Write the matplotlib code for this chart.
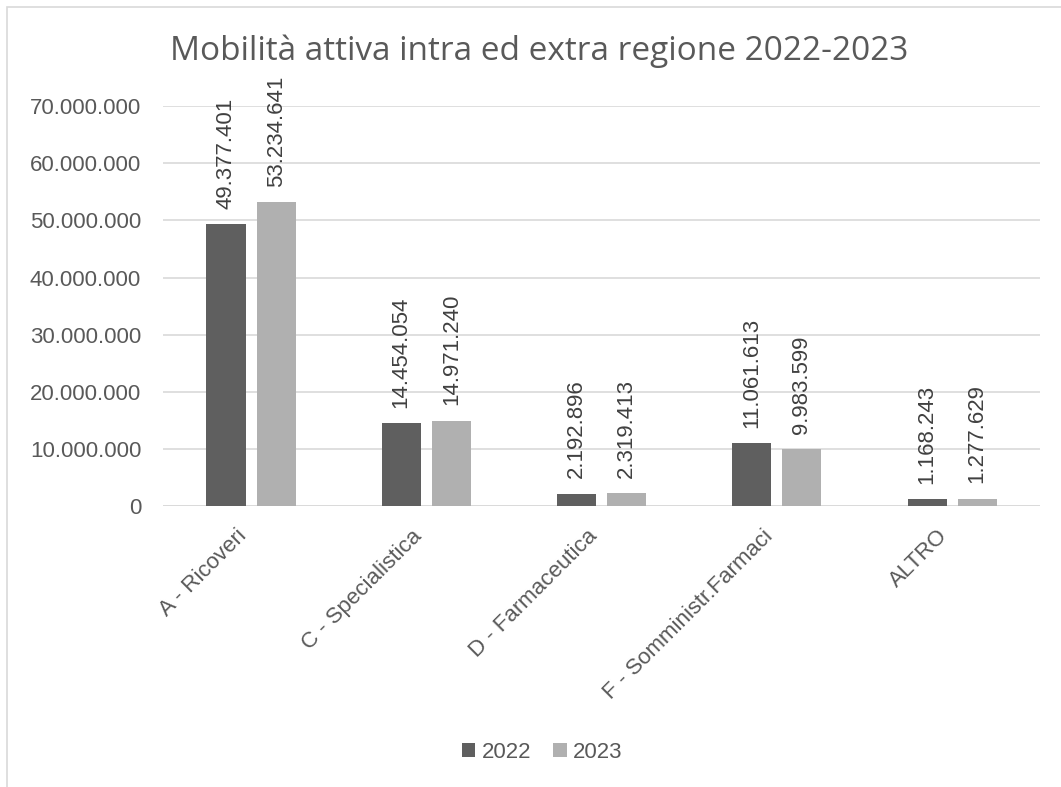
import matplotlib.pyplot as plt
from matplotlib.patches import Rectangle
import numpy as np

categories = ["A - Ricoveri", "C - Specialistica", "D - Farmaceutica",
              "F - Somministr.Farmaci", "ALTRO"]
v2022 = [49377401, 14454054, 2192896, 11061613, 1168243]
v2023 = [53234641, 14971240, 2319413, 9983599, 1277629]
yticks = [0, 10000000, 20000000, 30000000, 40000000, 50000000, 60000000, 70000000]

plt.rcParams['font.family'] = ['Liberation Sans', 'DejaVu Sans']
txt = '#595959'

def fmt(v):
    return f"{v:,}".replace(",", ".")

fig = plt.figure(figsize=(10.61, 7.87), dpi=100)
ax = fig.add_axes([0.154, 0.357, 0.826, 0.508])

x = np.arange(len(categories))
w = 0.223
off = 0.143
b1 = ax.bar(x - off, v2022, w, color='#5f5f5f', label='2022', zorder=3)
b2 = ax.bar(x + off, v2023, w, color='#b0b0b0', label='2023', zorder=3)

for bars, vals in ((b1, v2022), (b2, v2023)):
    for b, v in zip(bars, vals):
        ax.annotate(fmt(v), (b.get_x() + b.get_width() / 2, v),
                    xytext=(0, 11), textcoords='offset points',
                    rotation=90, ha='center', va='bottom',
                    fontsize=16, color='#404040', annotation_clip=False)

ax.set_xlim(-0.5, len(categories) - 0.5)
ax.set_ylim(0, 70000000)
ax.set_yticks(yticks)
ax.set_yticklabels([fmt(t) for t in yticks], fontsize=16, color=txt)
ax.set_xticks(x)
ax.set_xticklabels(categories, rotation=45, ha='right', fontsize=16, color=txt)
ax.tick_params(axis='both', length=0)
ax.tick_params(axis='y', pad=16)
ax.tick_params(axis='x', pad=14)
ax.grid(axis='y', color='#d9d9d9', linewidth=1.2, zorder=0)
for s in ax.spines.values():
    s.set_visible(False)
ax.axhline(0, color='#d9d9d9', linewidth=1.2, zorder=1)

fig.text(0.508, 0.935, "Mobilità attiva intra ed extra regione 2022-2023",
         ha='center', va='center', fontsize=24, color=txt,
         family=['Open Sans', 'DejaVu Sans'])

fig.legend(loc='center', bbox_to_anchor=(0.511, 0.044), ncol=2, frameon=False,
           fontsize=16, labelcolor=txt, handlelength=0.6, handleheight=0.6,
           handletextpad=0.3, columnspacing=1.0)

fig.patches.append(Rectangle((7 / 1061, -0.1), 1.2, 1.1 - 7 / 787,
                             transform=fig.transFigure, fill=False,
                             edgecolor='#d9d9d9', linewidth=1.2))

fig.savefig('out.png', dpi=100, facecolor='white')
